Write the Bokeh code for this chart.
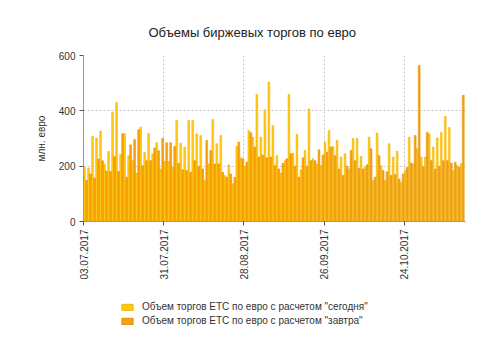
import math
from bokeh.plotting import figure
from bokeh.layouts import column
from bokeh.models import Legend, LegendItem, FixedTicker, Range1d, ColumnDataSource
from bokeh.transform import dodge
from bokeh.embed import file_html
from bokeh.resources import INLINE

tick_days = [0, 20, 40, 60, 80]
tick_labels = ["03.07.2017", "31.07.2017", "28.08.2017", "26.09.2017", "24.10.2017"]

today = [196, 193, 308, 302, 327, 208, 253, 395, 430, 242,
         317, 238, 220, 175, 341, 250, 319, 245, 285, 190,
         218, 217, 196, 365, 283, 269, 365, 365, 317, 311,
         148, 208, 369, 281, 311, 166, 205, 136, 272, 230,
         200, 329, 305, 459, 305, 404, 504, 347, 238, 175,
         220, 459, 247, 315, 187, 257, 407, 227, 208, 202,
         287, 329, 271, 293, 233, 245, 190, 300, 300, 235,
         196, 305, 148, 320, 202, 149, 281, 233, 254, 142,
         184, 305, 208, 263, 233, 233, 317, 269, 302, 323,
         380, 340, 184, 202, 210]
tomorrow = [148, 172, 157, 226, 220, 182, 181, 235, 181, 317,
            160, 277, 296, 332, 202, 220, 220, 266, 256, 301,
            285, 285, 271, 210, 187, 184, 178, 220, 200, 190,
            293, 257, 208, 208, 178, 160, 172, 160, 287, 227,
            215, 321, 269, 233, 240, 230, 233, 202, 190, 210,
            227, 245, 200, 160, 230, 200, 220, 220, 259, 240,
            250, 269, 238, 190, 166, 200, 257, 220, 192, 190,
            205, 263, 160, 238, 184, 180, 166, 170, 154, 172,
            195, 211, 311, 564, 199, 323, 220, 190, 200, 220,
            220, 211, 214, 196, 456]
series_labels = ['Объем торгов ЕТС по евро с расчетом "сегодня"',
                 'Объем торгов ЕТС по евро с расчетом "завтра"']
day = list(range(len(today)))

FONT = "Liberation Sans"
TXT = "#333333"
YEL, YEL_L = "#FFC815", "#F2B400"
ORA, ORA_L = "#F7A20C", "#E48F00"

src = ColumnDataSource(dict(day=day, today=today, tomorrow=tomorrow))

p = figure(width=484, height=290, output_backend="svg", toolbar_location=None,
           x_range=Range1d(0, 95.3), y_range=Range1d(0, 600),
           min_border_left=83, min_border_right=19, min_border_top=55, min_border_bottom=69)
p.outline_line_color = None
p.background_fill_color = "white"
p.border_fill_color = "white"

p.title.text = "Объемы биржевых торгов по евро"
p.title.align = "left"
p.title.offset = 65
p.title.text_font = FONT
p.title.text_font_size = "13px"
p.title.text_font_style = "normal"
p.title.text_color = "#222222"
p.title.standoff = 32

p.vbar(x=dodge("day", 0.25, range=p.x_range), top="today", width=0.46, source=src,
       fill_color=YEL, line_color=YEL_L, line_width=0.5)
p.vbar(x=dodge("day", 0.75, range=p.x_range), top="tomorrow", width=0.46, source=src,
       fill_color=ORA, line_color=ORA_L, line_width=0.5)

p.xaxis.ticker = FixedTicker(ticks=tick_days)
p.xaxis.major_label_overrides = {d: l for d, l in zip(tick_days, tick_labels)}
p.xaxis.major_label_orientation = math.pi / 2
p.yaxis.ticker = FixedTicker(ticks=[0, 200, 400, 600])
p.yaxis.axis_label = "млн. евро"
p.yaxis.axis_label_standoff = 9

for ax in (p.xaxis, p.yaxis):
    ax.axis_line_color = "#999999"
    ax.major_tick_line_color = "#555555"
    ax.major_tick_out = 4
    ax.major_tick_in = 0
    ax.minor_tick_line_color = None
    ax.major_label_text_font = FONT
    ax.major_label_text_font_size = "10px"
    ax.major_label_text_color = TXT
    ax.major_label_standoff = 4
    ax.axis_label_text_font = FONT
    ax.axis_label_text_font_size = "10px"
    ax.axis_label_text_font_style = "normal"
    ax.axis_label_text_color = TXT

for g in (p.xgrid, p.ygrid):
    g.grid_line_color = "#c8c8c8"
    g.grid_line_dash = "2 2"
p.xgrid.ticker = FixedTicker(ticks=tick_days)
p.ygrid.ticker = FixedTicker(ticks=[0, 200, 400, 600])

# legend strip
q = figure(width=484, height=58, output_backend="svg", toolbar_location=None,
           x_range=Range1d(0, 1), y_range=Range1d(0, 1),
           min_border_left=0, min_border_right=0, min_border_top=0, min_border_bottom=0)
q.axis.visible = False
q.grid.visible = False
q.outline_line_color = None
q.border_fill_color = "white"
hidden = ColumnDataSource(dict(x=[0.5], top=[float("nan")]))
l1 = q.vbar(x="x", top="top", width=0.1, source=hidden, fill_color=YEL, line_color=YEL_L)
l2 = q.vbar(x="x", top="top", width=0.1, source=hidden, fill_color=ORA, line_color=ORA_L)

legend = Legend(items=[LegendItem(label=series_labels[0], renderers=[l1]),
                       LegendItem(label=series_labels[1], renderers=[l2])],
                location=(37, 22))
legend.border_line_color = None
legend.background_fill_alpha = 0
legend.glyph_width = 14
legend.glyph_height = 8
legend.label_height = 10
legend.label_text_font = FONT
legend.label_text_font_size = "10px"
legend.label_text_color = TXT
legend.label_standoff = 8
legend.spacing = 3
legend.padding = 0
legend.margin = 0
q.add_layout(legend, "center")

layout = column(p, q, spacing=0)
open("out.html", "w").write(file_html(layout, INLINE))
